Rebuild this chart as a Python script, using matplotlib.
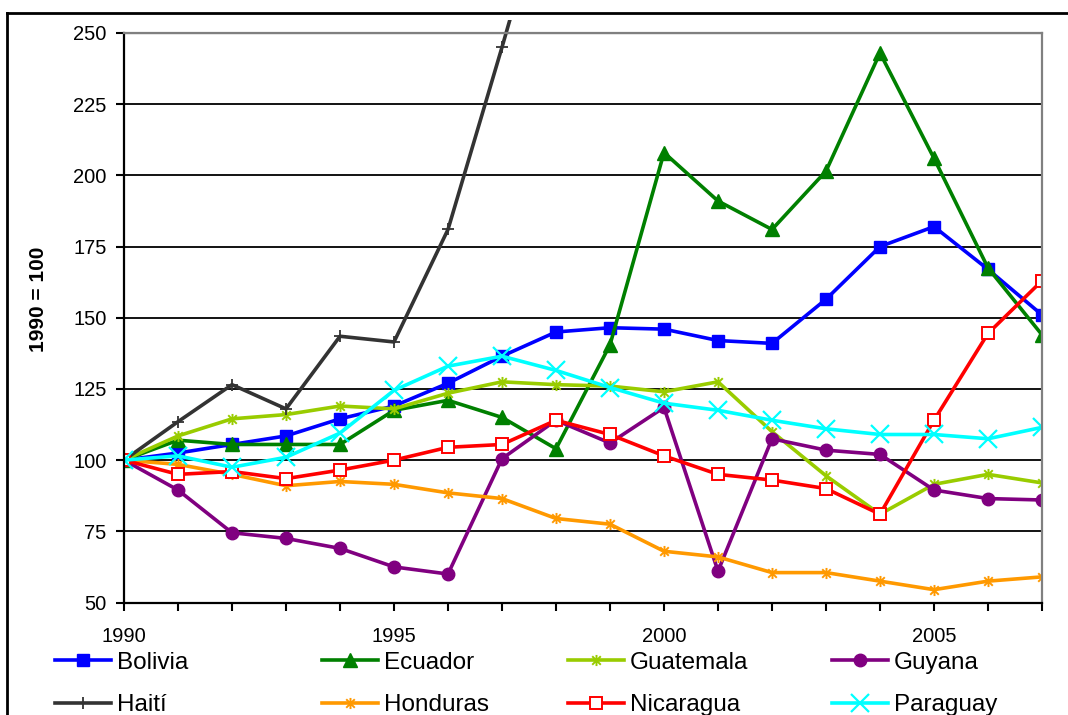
import numpy as np
import matplotlib
matplotlib.use("Agg")
import matplotlib.pyplot as plt
from matplotlib.path import Path
from matplotlib.lines import Line2D
from matplotlib.transforms import Bbox, TransformedBbox

plt.rcParams['font.family'] = ['Liberation Sans', 'DejaVu Sans']

years = list(range(1990, 2008))

bolivia = [100, 102.5, 105.5, 108.5, 114.5, 119, 127, 136.5, 145, 146.5,
           146, 142, 141, 156.5, 175, 182, 167, 151]
ecuador = [100, 107, 105.5, 105.5, 105.5, 117.5, 121, 115, 104, 140.5,
           208, 191, 181, 201.5, 243, 206, 167.5, 144]
guatemala = [100, 108.5, 114.5, 116, 119, 118, 123.5, 127.5, 126.5, 126,
             124, 127.5, 110, 94.5, 81, 91.5, 95, 92]
guyana = [100, 89.5, 74.5, 72.5, 69, 62.5, 60, 100.5, 114, 106,
          118.5, 61, 107.5, 103.5, 102, 89.5, 86.5, 86]
haiti = [100, 113.5, 126.5, 118, 143.5, 141.5, 181, 245, 311]
honduras = [100, 98.5, 95, 91, 92.5, 91.5, 88.5, 86.5, 79.5, 77.5,
            68, 66, 60.5, 60.5, 57.5, 54.5, 57.5, 59]
nicaragua = [100, 95, 96, 93.5, 96.5, 100, 104.5, 105.5, 114, 109,
             101.5, 95, 93, 90, 81, 114, 144.5, 163]
paraguay = [100, 101.5, 97.5, 101, 109.5, 124.5, 133, 136.5, 131.5, 125.5,
            120, 117.5, 114, 111, 109, 109, 107.5, 111.5]

y_ticks = [50, 75, 100, 125, 150, 175, 200, 225, 250]
x_labels = [1990, 1995, 2000, 2005]

# Excel-style asterisk: an "x" with a vertical bar through it
ast = Path([(-1, -1), (1, 1), (-1, 1), (1, -1), (0, -1.3), (0, 1.3)],
           [Path.MOVETO, Path.LINETO, Path.MOVETO, Path.LINETO,
            Path.MOVETO, Path.LINETO])

W, H = 1068, 715
fig = plt.figure(figsize=(W / 100, H / 100), dpi=100)
ax = fig.add_axes([124 / W, 1 - 602.5 / H, (1042 - 124) / W, (602.5 - 33) / H])

lw = 2.6
series = [
    ("Bolivia", bolivia, dict(color="#0000FF", marker="s", ms=8.5)),
    ("Ecuador", ecuador, dict(color="#008000", marker="^", ms=10.5)),
    ("Guatemala", guatemala, dict(color="#99CC00", marker=ast, ms=8, mew=1.4)),
    ("Guyana", guyana, dict(color="#800080", marker="o", ms=9)),
    ("Haití", haiti, dict(color="#333333", marker="+", ms=9, mew=1.3)),
    ("Honduras", honduras, dict(color="#FF9900", marker=ast, ms=8, mew=1.4)),
    ("Nicaragua", nicaragua, dict(color="#FF0000", marker="s", ms=8.5,
                                  mfc="white", mec="#FF0000", mew=1.4)),
    ("Paraguay", paraguay, dict(color="#00FFFF", marker="x", ms=12.5, mew=1.6)),
]

handles = {}
for name, vals, style in series:
    xs = years[:len(vals)]
    ln, = ax.plot(xs, vals, lw=lw, label=name, **style)
    handles[name] = ln

# Haití runs off the top of the plot area, up to the chart frame
clip = TransformedBbox(Bbox([[124 / W, 0.0], [1042 / W, 1 - 20 / H]]), fig.transFigure)
handles["Haití"].set_clip_box(clip)

ax.set_xlim(1990, 2007)
ax.set_ylim(50, 250)
ax.set_yticks(y_ticks)
ax.set_xticks(years)
ax.set_xticklabels([str(y) if y in x_labels else "" for y in years])
ax.tick_params(axis="both", direction="out", length=6, width=1.5, labelsize=14.5,
               colors="black")
ax.tick_params(axis="x", pad=12)
ax.tick_params(axis="y", pad=6.5)

for y in y_ticks[1:-1]:
    ax.axhline(y, color="black", lw=1.3, zorder=0.5)
ax.axhline(250, color="#808080", lw=1.6, zorder=0.5)

ax.spines["left"].set_linewidth(1.6)
ax.spines["bottom"].set_linewidth(1.6)
ax.spines["top"].set_color("#808080")
ax.spines["right"].set_color("#808080")
ax.spines["top"].set_linewidth(1.6)
ax.spines["right"].set_linewidth(1.6)

ax.set_ylabel("1990 = 100", fontsize=15, fontweight="bold")
ax.yaxis.set_label_coords((48 - 124) / 918, (602.5 - 299) / 569.5)

# Legend: four evenly spaced columns of two entries each
cols = [("Bolivia", "Haití"), ("Ecuador", "Honduras"),
        ("Guatemala", "Nicaragua"), ("Guyana", "Paraguay")]
col_x = [55, 322, 568, 832]
for (a, b), cx in zip(cols, col_x):
    fig.legend([handles[a], handles[b]], [a, b], loc="center left",
               bbox_to_anchor=(cx / W, 1 - 684 / H),
               bbox_transform=fig.transFigure, frameon=False,
               fontsize=17.5, handlelength=2.3, handletextpad=0.25,
               labelspacing=0.85, borderpad=0, borderaxespad=0,
               numpoints=1)

# Outer chart frame
fig.add_artist(Line2D([7 / W, 1.0], [1 - 13 / H, 1 - 13 / H], color="black",
                      lw=2.0, transform=fig.transFigure))
fig.add_artist(Line2D([7 / W, 7 / W], [0.0, 1 - 13 / H], color="black",
                      lw=2.0, transform=fig.transFigure))

fig.savefig("out.png", dpi=100)
